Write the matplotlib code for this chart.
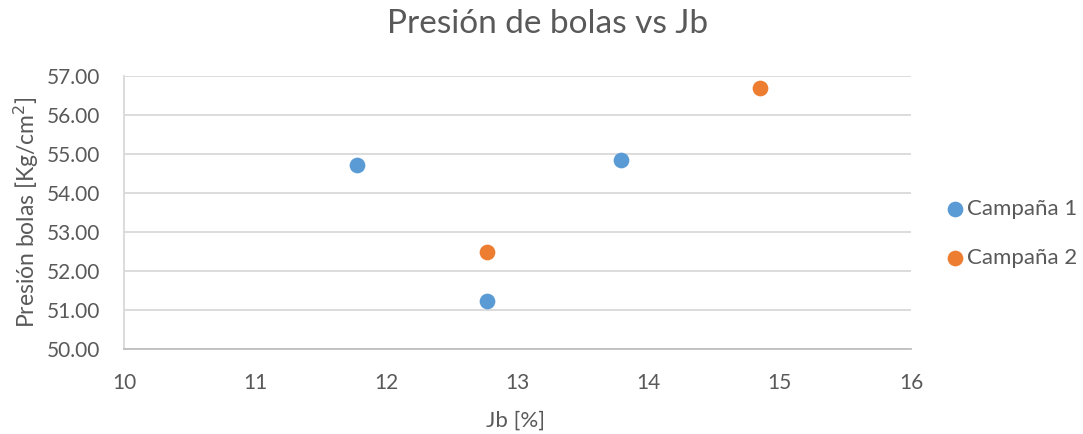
import matplotlib
matplotlib.use("Agg")
import matplotlib.pyplot as plt

plt.rcParams['font.family'] = ['Lato', 'DejaVu Sans']

c1_x = [11.78, 12.77, 13.79]
c1_y = [54.73, 51.23, 54.85]
c2_x = [12.77, 14.85]
c2_y = [52.50, 56.70]
series_names = ["Campaña 1", "Campaña 2"]
colors = ["#5B9BD5", "#ED7D31"]
xticks = [10, 11, 12, 13, 14, 15, 16]
yticks = [50, 51, 52, 53, 54, 55, 56, 57]

gray = "#595959"
W, H = 1083, 434
fig = plt.figure(figsize=(W / 100, H / 100), dpi=100)
ax = fig.add_axes([124 / W, 1 - 349 / H, (911 - 124) / W, (349 - 76) / H])

ax.scatter(c1_x, c1_y, s=128, color=colors[0], label=series_names[0], zorder=3, linewidths=0)
ax.scatter(c2_x, c2_y, s=128, color=colors[1], label=series_names[1], zorder=3, linewidths=0)

ax.set_xlim(10, 16)
ax.set_ylim(50, 57)
ax.set_xticks(xticks)
ax.set_yticks(yticks)
ax.set_yticklabels([f"{v:.2f}" for v in yticks])
ax.grid(axis='y', color="#D9D9D9", linewidth=1.3)
ax.set_axisbelow(True)
for s in ['top', 'right']:
    ax.spines[s].set_visible(False)
ax.spines['left'].set_color("#D9D9D9")
ax.spines['bottom'].set_color("#BFBFBF")
ax.spines['left'].set_linewidth(1.3)
ax.spines['bottom'].set_linewidth(1.3)
ax.tick_params(axis='both', length=0, labelsize=15, colors=gray)
ax.tick_params(axis='y', pad=17)
ax.tick_params(axis='x', pad=17)

fig.text(516 / W, 1 - 421 / H, "Jb [%]", fontsize=16, color=gray, ha='center', va='center')
fig.text(26 / W, 1 - 212 / H, "Presión bolas [Kg/cm$^2$]", fontsize=16.5, color=gray,
         ha='center', va='center', rotation=90)
fig.text(548 / W, 1 - 33 / H, "Presión de bolas vs Jb", fontsize=24, color=gray,
         ha='center', va='baseline')

leg = fig.legend(loc='center left', bbox_to_anchor=(946 / W, 1 - 233.5 / H), frameon=False,
                 fontsize=16, labelspacing=1.3, handlelength=0.8, handletextpad=0.15,
                 borderaxespad=0, borderpad=0)
for t in leg.get_texts():
    t.set_color(gray)

fig.savefig("out.png", dpi=100)
